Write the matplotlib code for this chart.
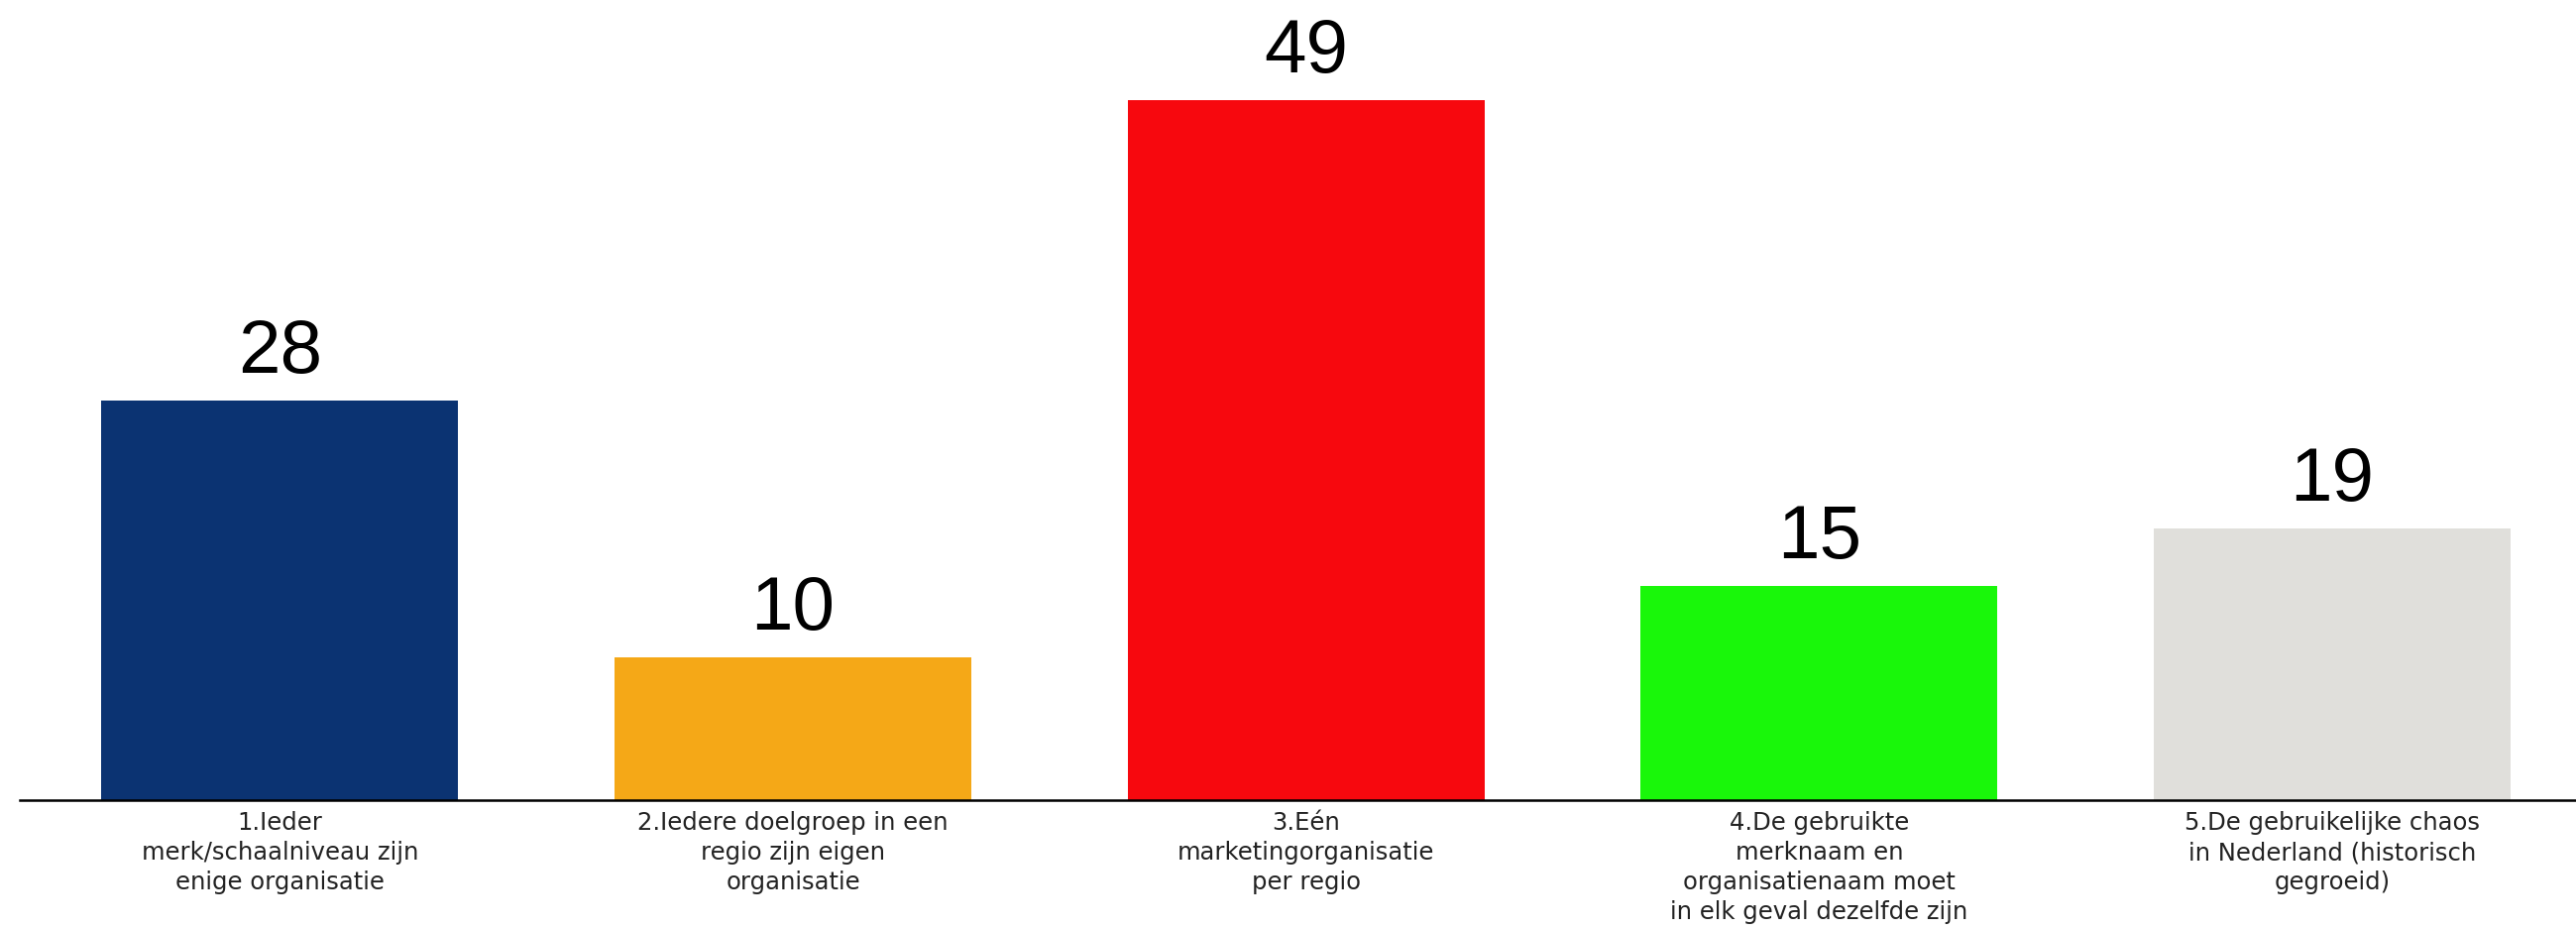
import matplotlib
matplotlib.use("Agg")
import matplotlib.pyplot as plt

# data
categories = [
    "1.Ieder\nmerk/schaalniveau zijn\nenige organisatie",
    "2.Iedere doelgroep in een\nregio zijn eigen\norganisatie",
    "3.Eén\nmarketingorganisatie\nper regio",
    "4.De gebruikte\nmerknaam en\norganisatienaam moet\nin elk geval dezelfde zijn",
    "5.De gebruikelijke chaos\nin Nederland (historisch\ngegroeid)",
]
values = [28, 10, 49, 15, 19]
colors = ["#0B3372", "#F5A817", "#F7080E", "#19F70A", "#E0DFDB"]


def plot_bars():
    # create figure sized to the reference (2599 x 938 px)
    fig = plt.figure(figsize=(25.99, 9.38), dpi=100)
    left = 20 / 2599
    ax = fig.add_axes([left, 131 / 938, 1 - left, 807 / 938])

    x = list(range(len(values)))
    bars = ax.bar(x, values, width=0.6955, color=colors)

    # value labels above each bar
    for bar, val in zip(bars, values):
        ax.annotate(str(val), (bar.get_x() + bar.get_width() / 2, bar.get_height()),
                    xytext=(0, 20), textcoords="offset points",
                    ha="center", va="baseline", fontsize=55,
                    family="Liberation Sans", color="black")

    # axis limits so the bars sit where they are in the reference
    ax.set_xlim(-0.507, 4.475)
    ax.set_ylim(0, 56)

    ax.set_xticks(x)
    ax.set_xticklabels(categories, fontsize=17.5, family="DejaVu Sans", color="#222222")
    for lbl in ax.get_xticklabels():
        lbl.set_linespacing(1.32)
    ax.tick_params(axis="x", length=0, pad=8)
    ax.set_yticks([])

    for side in ["top", "right", "left"]:
        ax.spines[side].set_visible(False)
    ax.spines["bottom"].set_linewidth(1.8)
    ax.spines["bottom"].set_color("black")

    fig.savefig("out.png", dpi=100, facecolor="white")


if __name__ == "__main__":
    plot_bars()
